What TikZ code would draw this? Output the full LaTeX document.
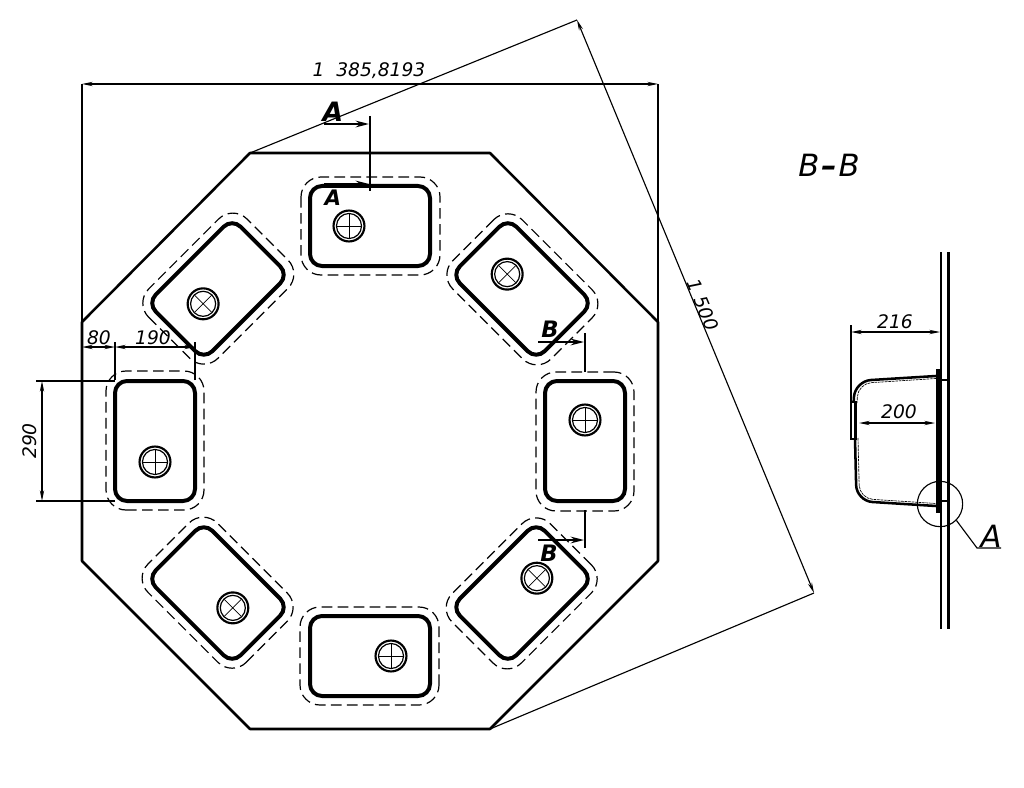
\documentclass[tikz,border=0pt]{standalone}
\usepackage{fontspec}
\setmainfont{DejaVu Sans}
\usetikzlibrary{arrows.meta}

\begin{document}
\begin{tikzpicture}[x=0.75pt,y=-0.75pt,font=\itshape\fontsize{14}{16}\selectfont]
        \tikzstyle{every node}=[inner sep=0pt]
        \tikzstyle{contour}=[line width=1.9pt,line join=round]
        \tikzstyle{cutline}=[line width=2pt]
        \tikzstyle{cutarrow}=[line width=1.4pt,-{Stealth[length=10pt,width=5pt]}]
        \tikzstyle{thin line}=[line width=0.85pt]
        \tikzstyle{dimline}=[thin line,{Stealth[length=8pt,width=3.2pt]}-{Stealth[length=8pt,width=3.2pt]}]
        \tikzstyle{window}=[line width=3pt,rounded corners=9pt]
        \tikzstyle{seam}=[line width=0.9pt,dash pattern=on 8pt off 4pt,rounded corners=15pt]
        \tikzstyle{cutlabel}=[font=\bfseries\itshape\fontsize{17}{18}\selectfont]
        \useasboundingbox (0,0) rectangle (1024,788);
        \fill[white] (0,0) rectangle (1024,788);
        \coordinate (centre) at (370,441);
        \coordinate (octTL) at (250,153);
        \coordinate (octTR) at (490,153);
        \coordinate (octRT) at (658,322);
        \coordinate (octRB) at (658,561);
        \coordinate (octBR) at (490,729);
        \coordinate (octBL) at (250,729);
        \coordinate (octLB) at (82,561);
        \coordinate (octLT) at (82,322);
        \draw[contour] (octTL) -- (octTR) -- (octRT) -- (octRB) -- (octBR) -- (octBL) -- (octLB) -- (octLT) -- cycle;
        % the eight windows
        \foreach \i in {0,...,7} {
            \begin{scope}[rotate around={-45*\i:(centre)}]
                \draw[window] (310,186) rectangle (430,266);
                \draw[seam] (301,177) rectangle (440,275);
                \draw[line width=1.6pt] (349,226) circle (11.6pt);
                \draw[line width=0.9pt] (349,226) circle (9.4pt);
                \draw[line width=0.55pt] (337,226) -- (361,226) (349,214) -- (349,238);
            \end{scope}
        }
        % overall width
        \coordinate (widthL) at (82,84);
        \coordinate (widthR) at (658,84);
        \draw[thin line] (octLT) -- (widthL);
        \draw[thin line] (octRT) -- (widthR);
        \draw[dimline] (widthL) -- (widthR);
        \node (widthtext) at (369,71) {1\ \ 385,8193};
        % across flats
        \coordinate (flatT) at (577,20);
        \coordinate (flatB) at (814,593);
        \draw[thin line] (octTL) -- (flatT);
        \draw[thin line] (octBR) -- (flatB);
        \draw[dimline] (flatT) -- (flatB);
        \node[rotate=-67.5] (flattext) at (703,305) {1\ 500};
        % window dimensions
        \coordinate (dimA) at (82,347);
        \coordinate (dimB) at (115,347);
        \coordinate (dimC) at (195,347);
        \coordinate (extB) at (115,380);
        \coordinate (extC) at (195,380);
        \draw[thin line] (extB) -- ([yshift=3.5pt]dimB);
        \draw[thin line] (extC) -- ([yshift=3.5pt]dimC);
        \draw[dimline] (dimA) -- (dimB);
        \draw[dimline] (dimB) -- (dimC);
        \node (eighty) at (99,338) {80};
        \node (onenine) at (153,338) {190};
        \coordinate (extT) at (115,381);
        \coordinate (extD) at (115,501);
        \coordinate (dimT) at (42,381);
        \coordinate (dimD) at (42,501);
        \draw[thin line] (extT) -- ([xshift=-4.5pt]dimT);
        \draw[thin line] (extD) -- ([xshift=-4.5pt]dimD);
        \draw[dimline] (dimT) -- (dimD);
        \node[rotate=90] (twoninety) at (30,441) {290};
        % section marks
        \coordinate (cutAt) at (370,116);
        \coordinate (cutAb) at (370,191);
        \draw[cutline] (cutAt) -- (cutAb);
        \coordinate (cutAa) at (324,124);
        \coordinate (cutAc) at (369,124);
        \coordinate (cutAd) at (324,184);
        \coordinate (cutAe) at (369,184);
        \draw[cutarrow] (cutAa) -- (cutAc);
        \draw[cutarrow] (cutAd) -- (cutAe);
        \node[cutlabel,font=\bfseries\itshape\fontsize{20}{22}\selectfont] (labelAt) at (333,112) {A};
        \node[cutlabel,font=\bfseries\itshape\fontsize{16}{18}\selectfont] (labelAb) at (333,198) {A};
        \coordinate (cutBa) at (585,333);
        \coordinate (cutBb) at (585,372);
        \coordinate (cutBc) at (585,510);
        \coordinate (cutBd) at (585,548);
        \draw[cutline] (cutBa) -- (cutBb);
        \draw[cutline] (cutBc) -- (cutBd);
        \coordinate (cutBe) at (538,342);
        \coordinate (cutBf) at (584,342);
        \coordinate (cutBg) at (538,540);
        \coordinate (cutBh) at (584,540);
        \draw[cutarrow] (cutBe) -- (cutBf);
        \draw[cutarrow] (cutBg) -- (cutBh);
        \node[cutlabel] (labelBt) at (550,329) {B};
        \node[cutlabel] (labelBb) at (549,553) {B};
        \node[font=\itshape\fontsize{23}{26}\selectfont] (sectitle) at (829,165) {B\kern1.5pt{\bfseries --}\kern1.5pt B};
        % section B-B
        \draw[line width=2.2pt] (941,252) -- (941,629);
        \draw[line width=1.7pt] (948.5,252) -- (948.5,629);
        \fill (936,369) rectangle (941,513);
        \draw[line width=1.5pt] (941,380) -- (948,380) (941,501) -- (948,501);
        \draw[line width=1.9pt,rounded corners=12pt] (936,376) -- (855,381) -- (853.5,404) (855,438) -- (856.5,501) -- (936,506);
        \draw[line width=0.5pt,dash pattern=on 2pt off 0.6pt,rounded corners=10pt] (936,378.5) -- (858,383.5) -- (857,404) (858,438) -- (859.5,498.5) -- (936,503.5);
        \draw[line width=1.8pt,fill=white] (851,402) rectangle (855.5,439);
        \coordinate (depthL) at (851,332);
        \coordinate (depthR) at (940,332);
        \coordinate (depthE) at (851,402);
        \draw[thin line] (depthE) -- ([yshift=5pt]depthL);
        \draw[dimline] (depthL) -- (depthR);
        \node (twosixteen) at (895,322) {216};
        \coordinate (innerL) at (859,423);
        \coordinate (innerR) at (935,423);
        \draw[dimline] (innerL) -- (innerR);
        \node (twohundred) at (899,412) {200};
        \node[draw,thin line,circle,minimum size=34pt] (detail) at (940,504) {};
        \coordinate (leaderA) at (977,548);
        \coordinate (leaderB) at (1001,548);
        \draw[thin line] (detail.-45) -- (leaderA) -- (leaderB);
        \node[font=\itshape\fontsize{23}{26}\selectfont] (detailtext) at (991,536) {A};
    \end{tikzpicture}
\end{document}
